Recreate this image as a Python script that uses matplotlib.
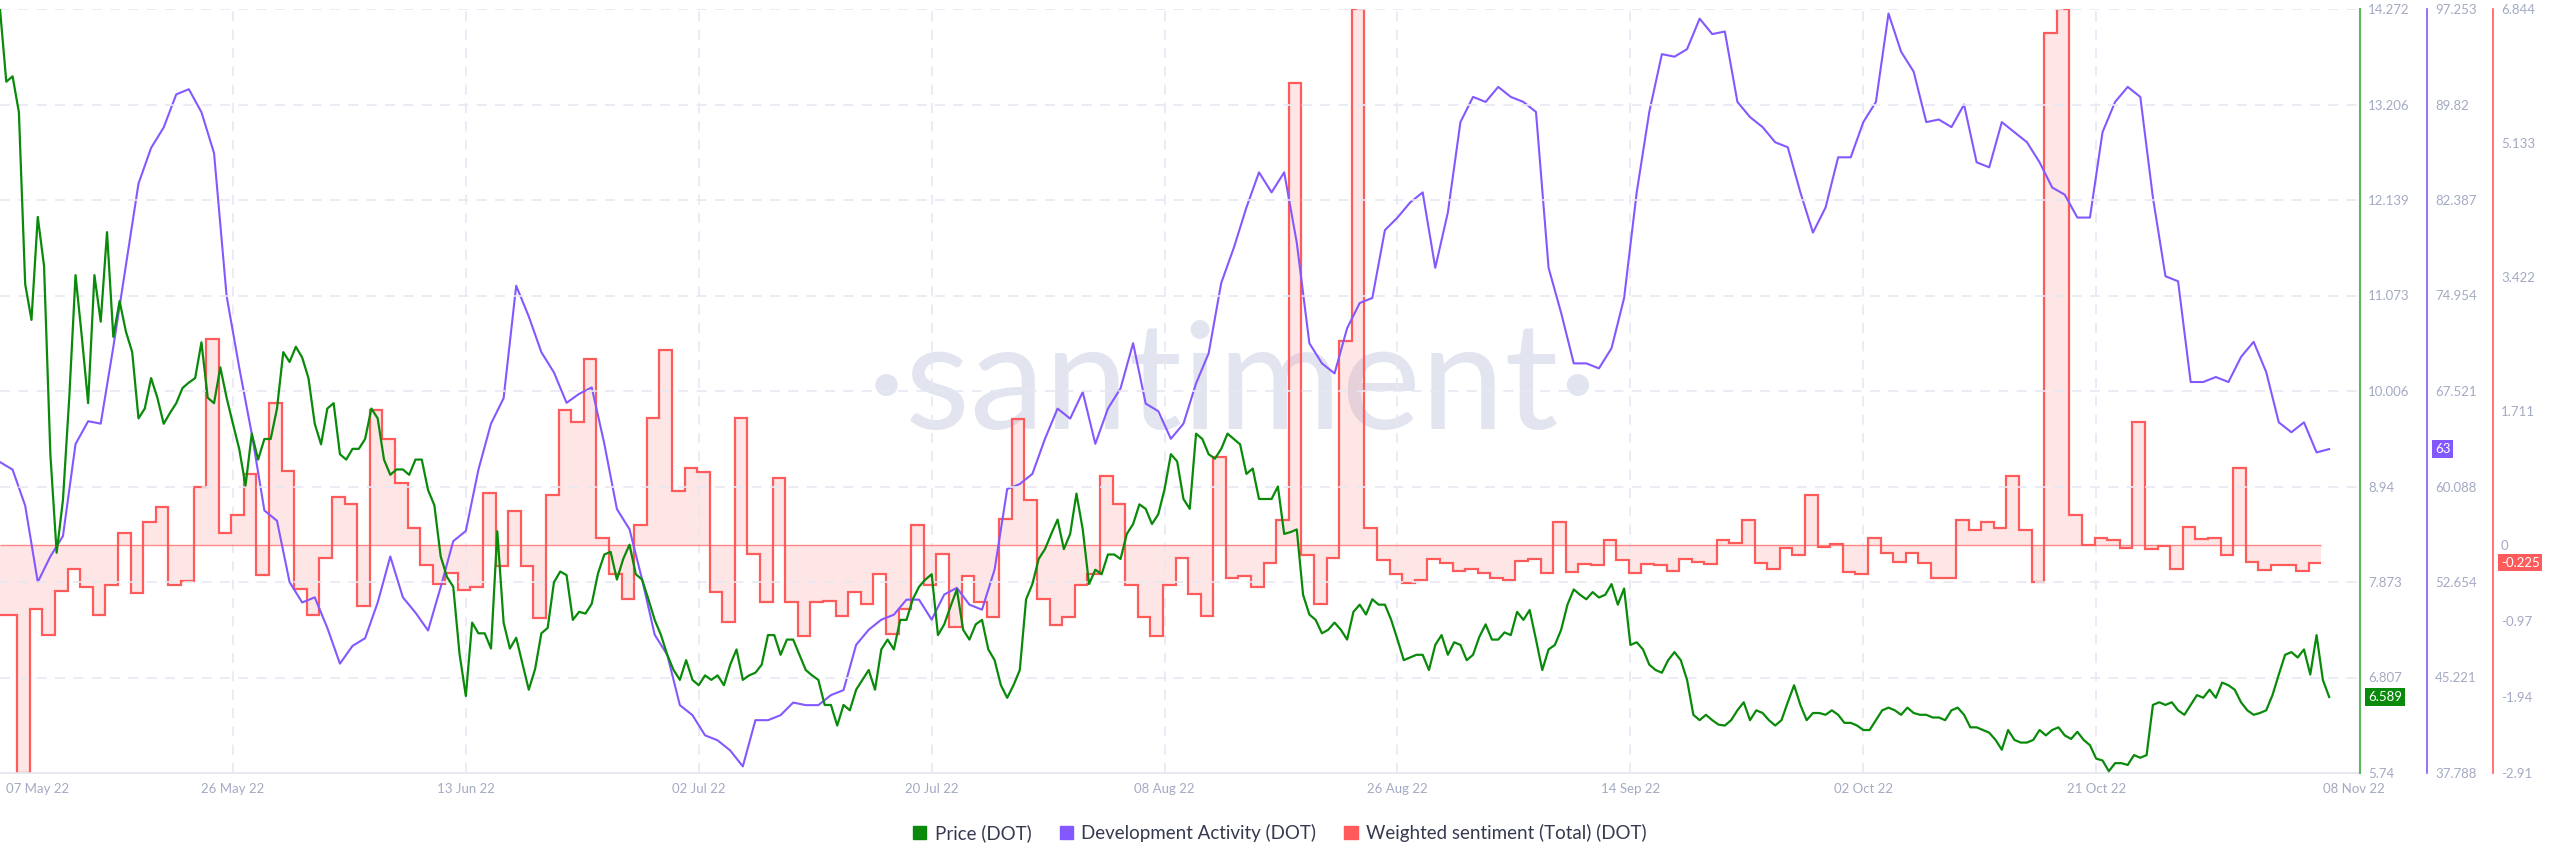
import numpy as np
import matplotlib
matplotlib.use('Agg')
import matplotlib.pyplot as plt
from matplotlib.patches import Patch

# DOT, 07 May 22 -> 08 Nov 22
# price (USD), one value every 12 hours
price = [
    14.27, 13.46, 13.52, 13.12, 11.2, 10.8, 11.95, 11.4, 9.3, 8.2,
    8.79, 9.93, 11.3, 10.61, 9.87, 11.30, 10.78, 11.78, 10.61, 11.01,
    10.67, 10.44, 9.70, 9.81, 10.15, 9.93, 9.64, 9.76, 9.87, 10.04,
    10.10, 10.15, 10.55, 9.93, 9.87, 10.27, 9.93, 9.64, 9.36, 8.95,
    9.53, 9.24, 9.47, 9.47, 9.81, 10.44, 10.33, 10.50, 10.38, 10.15,
    9.64, 9.41, 9.81, 9.87, 9.30, 9.24, 9.36, 9.36, 9.47, 9.81,
    9.70, 9.24, 9.07, 9.13, 9.13, 9.07, 9.24, 9.24, 8.90, 8.73,
    8.16, 7.93, 7.82, 7.07, 6.60, 7.42, 7.30, 7.30, 7.13, 8.44,
    7.42, 7.13, 7.25, 6.96, 6.67, 6.90, 7.30, 7.36, 7.87, 7.99,
    7.95, 7.45, 7.54, 7.52, 7.63, 7.97, 8.18, 8.21, 7.90, 8.13,
    8.29, 7.96, 7.90, 7.68, 7.45, 7.28, 7.06, 6.89, 6.78, 7.00,
    6.78, 6.72, 6.83, 6.78, 6.83, 6.72, 6.95, 7.12, 6.78, 6.83,
    6.86, 6.95, 7.28, 7.28, 7.06, 7.23, 7.23, 7.06, 6.89, 6.83,
    6.78, 6.50, 6.50, 6.27, 6.50, 6.44, 6.67, 6.78, 6.89, 6.67,
    7.12, 7.23, 7.12, 7.45, 7.45, 7.68, 7.82, 7.90, 7.96, 7.28,
    7.40, 7.60, 7.79, 7.34, 7.23, 7.40, 7.45, 7.12, 7.00, 6.72,
    6.58, 6.72, 6.89, 7.68, 7.85, 8.13, 8.24, 8.41, 8.57, 8.24,
    8.41, 8.86, 8.46, 7.85, 8.01, 7.96, 8.18, 8.18, 8.13, 8.41,
    8.52, 8.74, 8.69, 8.52, 8.63, 8.91, 9.30, 9.22, 8.80, 8.69,
    9.53, 9.47, 9.30, 9.25, 9.36, 9.53, 9.47, 9.41, 9.08, 9.14,
    8.80, 8.80, 8.80, 8.94, 8.41, 8.43, 8.46, 7.73, 7.51, 7.45,
    7.30, 7.34, 7.42, 7.34, 7.23, 7.54, 7.62, 7.51, 7.68, 7.62,
    7.62, 7.45, 7.23, 7.00, 7.03, 7.06, 7.06, 6.89, 7.17, 7.28,
    7.06, 7.20, 7.17, 7.00, 7.06, 7.26, 7.40, 7.23, 7.23, 7.31,
    7.28, 7.54, 7.45, 7.56, 7.23, 6.89, 7.12, 7.17, 7.34, 7.62,
    7.79, 7.73, 7.68, 7.76, 7.70, 7.73, 7.85, 7.62, 7.80, 7.17,
    7.20, 7.12, 6.95, 6.89, 6.86, 7.00, 7.09, 7.00, 6.78, 6.39,
    6.33, 6.39, 6.33, 6.28, 6.27, 6.33, 6.44, 6.53, 6.33, 6.44,
    6.41, 6.33, 6.27, 6.33, 6.53, 6.72, 6.50, 6.33, 6.41, 6.41,
    6.39, 6.44, 6.39, 6.30, 6.30, 6.27, 6.22, 6.22, 6.33, 6.44,
    6.47, 6.44, 6.39, 6.47, 6.41, 6.39, 6.39, 6.36, 6.36, 6.33,
    6.44, 6.47, 6.39, 6.25, 6.25, 6.22, 6.19, 6.11, 6.00, 6.22,
    6.11, 6.08, 6.08, 6.11, 6.22, 6.16, 6.22, 6.25, 6.16, 6.12,
    6.20, 6.11, 6.05, 5.90, 5.88, 5.76, 5.85, 5.85, 5.83, 5.94,
    5.91, 5.94, 6.50, 6.53, 6.50, 6.53, 6.44, 6.39, 6.50, 6.61,
    6.58, 6.67, 6.58, 6.75, 6.72, 6.67, 6.53, 6.44, 6.39, 6.41,
    6.44, 6.61, 6.84, 7.06, 7.09, 7.03, 7.12, 6.84, 7.28, 6.78,
    6.589,
]

# development activity, daily
dev_activity = [
    61.99, 61.40, 58.60, 52.65, 54.64, 56.23, 63.39, 65.17, 64.98, 70.94,
    77.30, 83.66, 86.44, 88.03, 90.61, 91.01, 89.22, 86.04, 74.91, 69.35,
    64.18, 58.22, 57.42, 52.65, 51.06, 51.46, 49.08, 46.30, 47.68, 48.28,
    51.06, 54.64, 51.46, 50.27, 48.88, 52.25, 55.83, 56.63, 61.40, 64.98,
    66.96, 75.71, 73.32, 70.54, 68.96, 66.60, 67.30, 67.80, 63.41, 58.33,
    56.76, 52.85, 48.55, 46.98, 43.07, 42.29, 40.72, 40.33, 39.54, 38.30,
    41.90, 41.90, 42.29, 43.27, 43.07, 43.07, 43.85, 44.24, 47.76, 48.94,
    49.72, 50.11, 51.28, 51.28, 49.72, 51.68, 52.20, 50.89, 50.50, 53.63,
    59.89, 60.28, 61.07, 63.80, 66.15, 65.37, 67.44, 63.41, 66.15, 67.72,
    71.24, 66.54, 65.95, 63.80, 64.98, 68.11, 70.45, 75.93, 78.67, 81.80,
    84.54, 82.98, 84.54, 79.06, 71.24, 69.67, 68.89, 72.41, 74.37, 74.76,
    80.04, 81.02, 82.19, 82.98, 77.11, 81.41, 88.45, 90.41, 90.02, 91.19,
    90.41, 90.02, 89.24, 77.11, 73.59, 69.67, 69.67, 69.28, 70.85, 74.76,
    82.98, 89.24, 93.74, 93.54, 94.13, 96.50, 95.30, 95.50, 90.02, 88.84,
    88.06, 86.88, 86.49, 82.98, 79.85, 81.80, 85.71, 85.71, 88.45, 90.02,
    96.90, 93.93, 92.37, 88.45, 88.65, 88.06, 89.82, 85.32, 84.93, 88.45,
    87.67, 86.88, 85.32, 83.36, 82.80, 81.02, 81.02, 87.67, 90.02, 91.19,
    90.41, 82.59, 76.45, 76.06, 68.22, 68.22, 68.61, 68.22, 70.17, 71.35,
    69.00, 65.08, 64.31, 65.08, 62.74, 63.00,
]

# weighted sentiment (total), daily buckets
sentiment = [
    -0.89, -0.89, -2.91, -0.82, -1.15, -0.59, -0.30, -0.53, -0.89, -0.51,
    0.16, -0.61, 0.29, 0.48, -0.51, -0.46, 0.74, 2.63, 0.16, 0.38,
    0.91, -0.38, 1.82, 0.94, -0.56, -0.89, -0.17, 0.61, 0.53, -0.78,
    1.72, 1.36, 0.79, 0.22, -0.25, -0.50, -0.36, -0.58, -0.53, 0.67,
    -0.27, 0.44, -0.27, -0.93, 0.64, 1.72, 1.57, 2.38, 0.09, -0.37,
    -0.69, 0.25, 1.62, 2.49, 0.69, 0.98, 0.93, -0.60, -0.98, 1.62,
    -0.12, -0.73, 0.86, -0.73, -1.16, -0.73, -0.71, -0.90, -0.60, -0.75,
    -0.37, -1.14, -0.81, 0.26, -0.51, -0.12, -1.05, -0.39, -0.73, -0.92,
    0.33, 1.61, 0.57, -0.69, -1.02, -0.92, -0.51, -0.37, 0.88, 0.53,
    -0.51, -0.92, -1.16, -0.51, -0.17, -0.63, -0.90, 1.12, -0.42, -0.39,
    -0.53, -0.23, 0.32, 5.90, -0.13, -0.75, -0.17, 2.60, 6.844, 0.22,
    -0.19, -0.37, -0.49, -0.45, -0.18, -0.23, -0.33, -0.31, -0.36, -0.42,
    -0.45, -0.20, -0.18, -0.36, 0.30, -0.34, -0.24, -0.26, 0.06, -0.19,
    -0.36, -0.24, -0.26, -0.33, -0.18, -0.21, -0.24, 0.06, 0.03, 0.32,
    -0.23, -0.31, -0.04, -0.13, 0.64, -0.03, 0.01, -0.34, -0.37, 0.09,
    -0.10, -0.21, -0.10, -0.23, -0.42, -0.42, 0.32, 0.19, 0.30, 0.22,
    0.88, 0.19, -0.47, 6.54, 6.844, 0.39, 0.00, 0.09, 0.06, -0.04,
    1.57, -0.05, -0.01, -0.31, 0.23, 0.08, 0.09, -0.13, 0.98, -0.21,
    -0.32, -0.26, -0.26, -0.33, -0.225,
]

date_labels = ['07 May 22', '26 May 22', '13 Jun 22', '02 Jul 22', '20 Jul 22', '08 Aug 22',
               '26 Aug 22', '14 Sep 22', '02 Oct 22', '21 Oct 22', '08 Nov 22']
price_tick_labels = ['5.74', '6.807', '7.873', '8.94', '10.006', '11.073', '12.139', '13.206', '14.272']
dev_tick_labels = ['37.788', '45.221', '52.654', '60.088', '67.521', '74.954', '82.387', '89.82', '97.253']
sent_ticks = [-2.91, -1.94, -0.97, 0, 1.711, 3.422, 5.133, 6.844]
sent_tick_labels = ['-2.91', '-1.94', '-0.97', '0', '1.711', '3.422', '5.133', '6.844']

GREEN = '#0a8a0a'
PURPLE = '#8358ff'
RED = '#ff5b5b'
TICK_COL = '#a3aac3'
GRID_COL = '#e6e8f2'

plt.rcParams['font.family'] = ['Lato', 'DejaVu Sans']

fig = plt.figure(figsize=(25.6, 8.67), dpi=100)
ax_s = fig.add_axes([0, 94 / 867, 2360 / 2560, 764 / 867])
ax_d = ax_s.twinx()
ax_p = ax_s.twinx()
ax_s.set_zorder(1)
ax_d.set_zorder(2)
ax_p.set_zorder(3)

price_days = np.arange(len(price)) * 0.5
dev_days = np.arange(len(dev_activity))
sent_edges = np.arange(len(sentiment) + 1) - 0.63

# sentiment: filled steps around zero
ax_s.stairs(sentiment, sent_edges, baseline=0, fill=True, color=RED, alpha=0.15, lw=0, zorder=1)
ax_s.stairs(sentiment, sent_edges, baseline=None, color=RED, lw=1.6, zorder=2)
ax_s.hlines(0, 0, sent_edges[-1], color=RED, lw=1, alpha=0.7, zorder=2)

ax_d.plot(dev_days, dev_activity, color=PURPLE, lw=1.5)
ax_p.plot(price_days, price, color=GREEN, lw=1.6)

ax_s.set_ylim(-2.91, 6.844)
ax_d.set_ylim(37.788, 97.253)
ax_p.set_ylim(5.74, 14.272)
for a in (ax_s, ax_d, ax_p):
    a.set_xlim(0, 187.45)
    for sp in a.spines.values():
        sp.set_visible(False)

# x axis: interior gridlines evenly spaced, end labels nudged inside
xpos = [3.0] + [18.5 * k for k in range(1, 10)] + [187.0]
ax_s.set_xticks(xpos, date_labels)
ax_s.tick_params(axis='x', length=0, pad=7, labelsize=9.5, labelcolor=TICK_COL)
ax_s.grid(axis='x', color=GRID_COL, lw=1.2, ls=(0, (6, 5)))
gl = ax_s.get_xgridlines()
gl[0].set_visible(False)
gl[-1].set_visible(False)
ax_s.spines['bottom'].set_visible(True)
ax_s.spines['bottom'].set_color('#e3e6ef')
ax_s.spines['bottom'].set_linewidth(1.2)

# price axis
ax_p.set_yticks(np.linspace(5.74, 14.272, 9), price_tick_labels)
ax_p.grid(axis='y', color=GRID_COL, lw=1.2, ls=(0, (6, 5)))
ax_p.spines['right'].set_visible(True)
ax_p.spines['right'].set_color('#5cb85c')
ax_p.spines['right'].set_linewidth(1.5)

# dev activity axis
ax_d.set_yticks(np.linspace(37.788, 97.253, 9), dev_tick_labels)
ax_d.spines['right'].set_visible(True)
ax_d.spines['right'].set_position(('outward', 48.2))
ax_d.spines['right'].set_color(PURPLE)
ax_d.spines['right'].set_linewidth(1.2)

# sentiment axis
ax_s.yaxis.tick_right()
ax_s.set_yticks(sent_ticks, sent_tick_labels)
ax_s.spines['right'].set_visible(True)
ax_s.spines['right'].set_position(('outward', 95.8))
ax_s.spines['right'].set_color(RED)
ax_s.spines['right'].set_linewidth(1.2)

for a in (ax_s, ax_d, ax_p):
    a.tick_params(axis='y', length=0, pad=5.8, labelsize=9.5, labelcolor=TICK_COL)

# last value badges
badges = [(ax_p, price[-1], '6.589', GREEN, 4),
          (ax_d, dev_activity[-1], '63', PURPLE, 71),
          (ax_s, sentiment[-1], '-0.225', RED, 137)]
for a, val, txt, col, off in badges:
    a.annotate(txt, xy=(1, val), xycoords=('axes fraction', 'data'),
               xytext=(off + 4, 0), textcoords='offset pixels',
               ha='left', va='center', color='white', fontsize=9.5,
               bbox=dict(boxstyle='square,pad=0.2', fc=col, ec='none'),
               annotation_clip=False)

# watermark
ax_s.text(0.522, 0.505, '\u00b7santiment\u00b7', transform=ax_s.transAxes,
          ha='center', va='center', fontsize=108, color='#e2e5f0',
          fontweight='normal', zorder=0.5)

handles = [Patch(color=GREEN, label='Price (DOT)'),
           Patch(color=PURPLE, label='Development Activity (DOT)'),
           Patch(color=RED, label='Weighted sentiment (Total) (DOT)')]
fig.legend(handles=handles, loc='center', bbox_to_anchor=(0.5, 0.039), ncol=3,
           frameon=False, fontsize=13.5, handlelength=0.7, handleheight=0.7,
           handletextpad=0.45, columnspacing=1.5, labelcolor='#353a50')

fig.savefig('out.png', dpi=100)
